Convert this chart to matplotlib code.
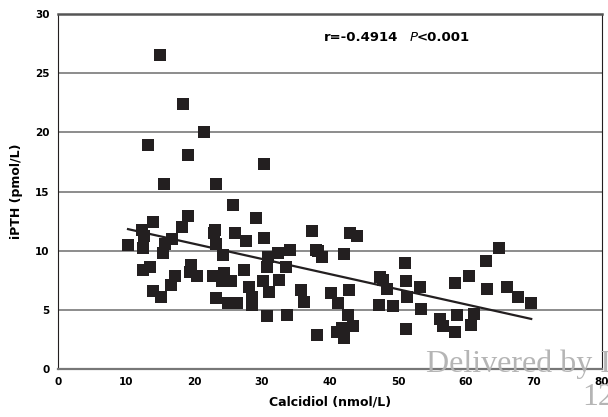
import numpy as np
import matplotlib.pyplot as plt

# calcidiol (nmol/L) vs iPTH (pmol/L)
calcidiol = [15.0, 18.4, 21.5, 13.2, 19.1, 30.3, 15.6, 23.2, 25.7, 29.1,
             19.1, 18.3, 14.0, 12.3, 12.5, 10.3, 16.7, 15.7, 15.4, 12.5,
             13.6, 14.0, 15.1, 17.2, 16.6, 19.6, 19.4, 20.5, 23.0, 23.3,
             24.2, 22.8, 24.4, 24.1, 25.5, 23.2, 25.0, 26.4, 26.0, 27.6,
             27.3, 28.1, 28.6, 28.6, 30.3, 30.2, 31.1, 30.7, 30.7, 30.9,
             32.5, 33.7, 32.4, 34.1, 33.5, 35.7, 36.2, 37.4, 38.3, 38.9,
             42.0, 42.9, 44.0, 40.2, 42.8, 41.2, 42.6, 43.4, 38.1, 41.0,
             41.7, 42.0, 47.3, 47.8, 48.4, 47.2, 49.2, 51.1, 51.2, 51.4,
             53.2, 53.4, 51.2, 58.4, 60.5, 62.9, 64.8, 63.1, 66.1, 67.7,
             69.6, 56.2, 56.6, 58.4, 58.7, 60.7, 61.2, 23.1, 38.0, 12.6]
ipth = [26.5, 22.4, 20.0, 18.9, 18.1, 17.3, 15.6, 15.6, 13.9, 12.8,
        12.9, 12.0, 12.45, 11.75, 10.2, 10.5, 11.0, 10.6, 9.8, 8.4,
        8.6, 6.6, 6.1, 7.9, 7.1, 8.8, 8.2, 7.9, 11.5, 10.6,
        9.6, 7.9, 8.1, 7.4, 7.4, 6.0, 5.55, 5.55, 11.5, 10.8,
        8.4, 6.9, 6.1, 5.4, 11.05, 7.4, 6.5, 4.5, 8.65, 9.5,
        7.5, 4.55, 9.8, 10.05, 8.65, 6.7, 5.7, 11.7, 9.95, 9.5,
        9.7, 11.5, 11.2, 6.45, 6.7, 5.55, 4.6, 3.6, 2.9, 3.1,
        3.45, 2.6, 7.8, 7.5, 6.8, 5.45, 5.35, 9.0, 7.4, 6.05,
        6.9, 5.05, 3.35, 7.3, 7.9, 9.1, 10.2, 6.8, 6.9, 6.1,
        5.55, 4.2, 3.6, 3.15, 4.6, 3.7, 4.65, 11.75, 10.05, 11.2]

# regression line as printed
fit_slope = -0.128
fit_intercept = 13.14
fit_range = [10.3, 69.6]

fig = plt.figure(figsize=(6.08, 4.17), dpi=100)
ax = fig.add_axes([0.0954, 0.1151, 0.8946, 0.8513])

for y in [5, 10, 15, 20, 25]:
    ax.axhline(y, color='#6e6e6e', lw=1.1, zorder=1)

ax.scatter(calcidiol, ipth, marker='s', s=85, color='#231f20', linewidths=0, zorder=3)

fx = np.array(fit_range)
ax.plot(fx, fit_intercept + fit_slope * fx, color='#231f20', lw=1.6, zorder=4)

ax.set_xlim(0, 80)
ax.set_ylim(0, 30)
ax.set_xticks(range(0, 81, 10))
ax.set_yticks(range(0, 31, 5))
ax.tick_params(length=0, labelsize=7.5, pad=6)
for lab in ax.get_xticklabels() + ax.get_yticklabels():
    lab.set_fontweight('bold')

ax.spines['top'].set_color('#555555')
ax.spines['top'].set_linewidth(1.8)
ax.spines['bottom'].set_color('#777777')
ax.spines['bottom'].set_linewidth(1.6)
ax.spines['left'].set_color('#231f20')
ax.spines['right'].set_color('#231f20')

ax.set_xlabel('Calcidiol (nmol/L)', fontsize=9, fontweight='bold', labelpad=6)
ax.set_ylabel('iPTH (pmol/L)', fontsize=9, fontweight='bold', labelpad=9)

ax.text(39.1, 28.0, 'r=-0.4914', fontsize=9.5, fontweight='bold', va='center')
ax.text(51.7, 28.0, 'P', fontsize=9.5, fontstyle='italic', va='center')
ax.text(52.7, 28.0, '<0.001', fontsize=9.5, fontweight='bold', va='center')

# watermark from the source page
fig.text(0.70, 0.108, 'Delivered by I', fontsize=23, family='Liberation Serif', color='#b5b5b5')
fig.text(0.958, 0.028, '12', fontsize=23, family='Liberation Serif', color='#b5b5b5')

fig.savefig('out.png', dpi=100)
